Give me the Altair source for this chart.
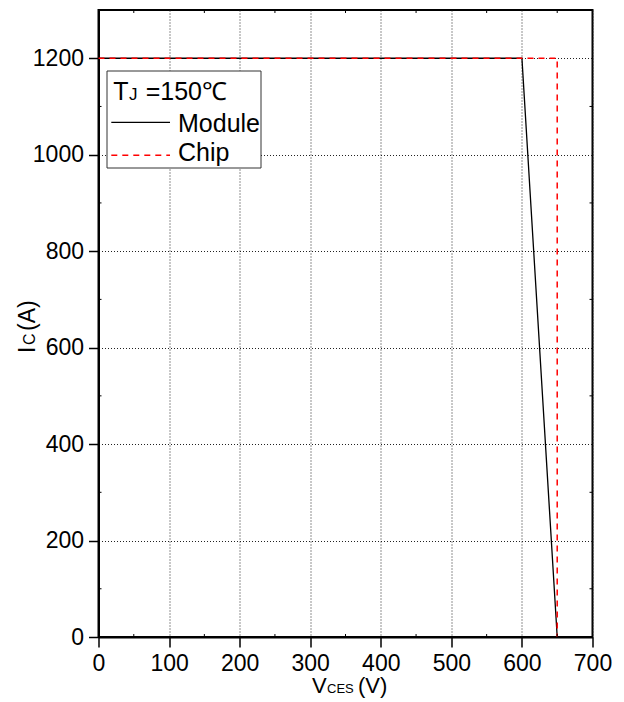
import altair as alt
import pandas as pd

# ---- data ----
module_v = [0, 600, 650]
module_i = [1200, 1200, 0]
chip_v = [0, 650, 650]
chip_i = [1200, 1200, 0]
x_ticks = [0, 100, 200, 300, 400, 500, 600, 700]
y_ticks = [0, 200, 400, 600, 800, 1000, 1200]
x_minor = [50, 150, 250, 350, 450, 550, 650]
y_minor = [100, 300, 500, 700, 900, 1100]

FONT = "Liberation Sans"
W, H = 494, 627

xs = alt.Scale(domain=[0, 700], nice=False, zero=True)
ys = alt.Scale(domain=[0, 1300], nice=False, zero=True)

common_axis = dict(
    title="", grid=True, gridDash=[1, 2], gridColor="#222222", gridWidth=1,
    tickSize=10, tickWidth=1.5, tickColor="black", domainColor="black",
    domainWidth=2, labelFont=FONT, labelFontSize=23, labelColor="black",
    labelPadding=5, labelFlush=False, format="d",
)
xaxis = alt.Axis(values=x_ticks, **common_axis)
yaxis = alt.Axis(values=y_ticks, **common_axis)

mod_df = pd.DataFrame({"v": module_v, "i": module_i, "k": list(range(len(module_v)))})
chip_df = pd.DataFrame({"v": chip_v, "i": chip_i, "k": list(range(len(chip_v)))})
xm_df = pd.DataFrame({"v": x_minor})
ym_df = pd.DataFrame({"i": y_minor})
one = pd.DataFrame({"a": [0]})

X = lambda f="v": alt.X(f"{f}:Q", scale=xs, axis=xaxis)
Y = lambda f="i": alt.Y(f"{f}:Q", scale=ys, axis=yaxis)

module = alt.Chart(mod_df).mark_line(color="black", strokeWidth=1.3).encode(
    x=X(), y=Y(), order=alt.Order("k:Q"))
chip = alt.Chart(chip_df).mark_line(color="#ff0000", strokeWidth=1.5, strokeDash=[6, 5]).encode(
    x=X(), y=Y(), order=alt.Order("k:Q"))

minor_bottom = alt.Chart(xm_df).mark_rule(color="black", strokeWidth=1).encode(
    x=X(), y=alt.value(H), y2=alt.value(H - 3))
minor_top = alt.Chart(xm_df).mark_rule(color="black", strokeWidth=1).encode(
    x=X(), y=alt.value(0), y2=alt.value(3))
minor_left = alt.Chart(ym_df).mark_rule(color="black", strokeWidth=1).encode(
    y=Y(), x=alt.value(0), x2=alt.value(3))
minor_right = alt.Chart(ym_df).mark_rule(color="black", strokeWidth=1).encode(
    y=Y(), x=alt.value(W), x2=alt.value(W - 3))

# legend box
box = alt.Chart(one).mark_rect(fill="white", stroke="#333333", strokeWidth=1).encode(
    x=alt.value(8.5), x2=alt.value(162.5), y=alt.value(61), y2=alt.value(158))
leg_mod = alt.Chart(one).mark_rule(color="black", strokeWidth=1.3).encode(
    x=alt.value(12.8), x2=alt.value(71.5), y=alt.value(112.3))
leg_chip = alt.Chart(one).mark_rule(color="#ff0000", strokeWidth=1.5, strokeDash=[6, 5]).encode(
    x=alt.value(12.8), x2=alt.value(71.5), y=alt.value(145.3))


def txt(s, x, y, size, angle=0):
    m = alt.Chart(one).mark_text(text=s, font=FONT, fontSize=size, color="black",
                                 align="left", baseline="alphabetic", angle=angle)
    return m.encode(x=alt.value(x), y=alt.value(y))


legend_texts = [
    txt("T", 14.8, 89.7, 25),
    txt("J", 30.5, 89.7, 17),
    txt("=150℃", 47.2, 89.7, 25),
    txt("Module", 79.5, 122.3, 25),
    txt("Chip", 79.5, 151.3, 25),
]

axis_titles = [
    txt("V", 213.5, 683, 22),
    txt("CES", 228.5, 683, 13),
    txt("(V)", 259.5, 683, 22),
    txt("I", -63.5, 343, 23, angle=270),
    txt("C", -63.5, 335, 16, angle=270),
    txt("(A)", -63.5, 321, 23, angle=270),
]

chart = alt.layer(
    module, chip, minor_bottom, minor_top, minor_left, minor_right,
    box, leg_mod, leg_chip, *legend_texts, *axis_titles,
).properties(
    width=W, height=H,
    autosize=alt.AutoSizeParams(type="none"),
    padding={"left": 90.5, "top": 2, "right": 22, "bottom": 62},
    background="white",
).configure_view(stroke="black", strokeWidth=2)

chart.save("out.html", embed_options={"renderer": "svg", "actions": False})
